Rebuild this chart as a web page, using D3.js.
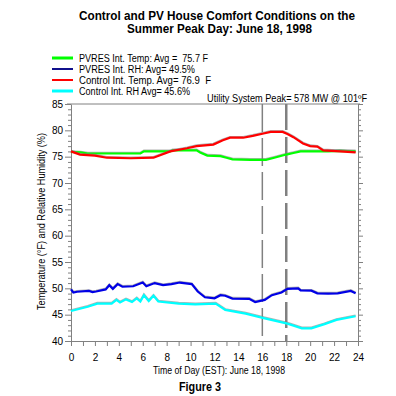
<!DOCTYPE html>
<html lang="en">
<head>
<meta charset="UTF-8">
<title>Control and PV House Comfort Conditions</title>
<style>
  body, html { margin: 0; background: #fff; }
  svg { display: block; font-family: "Liberation Sans", Arial, sans-serif; }
  text { white-space: pre; }
  .axis path, .axis line { stroke: #808080; }
  .axis text { fill: #000; font-size: 10px; }
</style>
</head>
<body>
<svg width="396" height="396"></svg>
<script src="https://d3js.org/d3.v7.min.js"></script>
<script>
// hours of day and readings
const pvTemp = [[0,75.9],[0.8,75.8],[1.4,75.6],[5.8,75.6],[6.1,76.0],[8.3,76.0],[8.5,76.2],[10.5,76.2],[10.8,75.8],[11.4,75.2],[12.5,75.1],[13,74.8],[13.5,74.5],[15,74.4],[16.3,74.4],[17,74.8],[18,75.4],[18.6,75.7],[19.2,76.0],[20.5,76.0],[21.5,76.0],[22.5,76.1],[23.8,76.0]];
const pvRH = [[0,49.8],[0.2,49.2],[0.5,49.35],[1.5,49.5],[1.8,49.3],[2.1,49.4],[2.9,49.8],[3.2,50.6],[3.5,49.9],[3.9,50.8],[4.3,50.3],[5.2,50.4],[6.0,51.1],[6.3,50.4],[7.0,51.0],[7.7,50.6],[8.4,50.8],[9.1,51.1],[10.1,50.8],[10.6,49.4],[11.2,48.3],[12,48.1],[12.5,48.7],[12.9,48.6],[13.5,48.05],[14.9,48.0],[15.4,47.4],[16.2,47.8],[16.8,48.7],[17.6,49.2],[18.1,49.9],[19,50.0],[19.2,49.6],[20.1,49.55],[20.6,49.05],[21.5,49.0],[22.3,49.05],[23.4,49.5],[23.8,49.05]];
const ctlTemp = [[0,76.0],[0.75,75.4],[2,75.2],[3,74.8],[5,74.7],[6.9,74.8],[8.3,76.0],[9.7,76.6],[10.5,77.0],[11.9,77.3],[12.7,78.1],[13.3,78.6],[14.4,78.6],[15.2,78.95],[16.1,79.4],[16.7,79.7],[17.7,79.7],[18.1,79.3],[18.6,78.7],[19.4,77.5],[20,77.0],[20.6,76.9],[21.1,76.2],[22.5,76.0],[23.8,75.8]];
const ctlRH = [[0,45.7],[1.4,46.5],[2.2,47.1],[3.4,47.1],[3.8,47.8],[4.1,47.3],[4.6,47.9],[5.1,47.4],[5.5,48.1],[5.8,47.5],[6.1,48.7],[6.5,47.6],[6.9,48.6],[7.3,47.5],[9,47.1],[10.4,46.95],[12.1,47.1],[12.9,45.9],[14.6,45.2],[16.2,44.3],[18.1,43.3],[19.3,42.4],[20.1,42.4],[21.2,43.2],[22.2,44.0],[23.8,44.7]];

const seriesNames = ["PVRES Int. Temp: Avg =  75.7 F", "PVRES Int. RH: Avg= 49.5%", "Control Int. Temp. Avg= 76.9  F", "Control Int. RH Avg= 45.6%"];
const seriesColors = ["#00ff00", "#0000e6", "#ff0000", "#00ffff"];
const seriesData = [pvTemp, pvRH, ctlTemp, ctlRH];
const peakHours = [16, 18];
const xTicks = d3.range(0, 25, 2);
const yTicks = d3.range(40, 86, 5);

const svg = d3.select("svg");
const mLeft = 71, mRight = 358, mTop = 104, mBottom = 341;

const x = d3.scaleLinear().domain([0, 24]).range([mLeft, mRight]);
const y = d3.scaleLinear().domain([40, 85]).range([mBottom, mTop]);

function label(px, py, str, size, len, anchor) {
  const t = svg.append("text").attr("x", px).attr("y", py)
    .attr("text-anchor", anchor || "middle").attr("font-size", size).text(str);
  if (len) t.attr("textLength", len).attr("lengthAdjust", "spacingAndGlyphs");
  return t;
}

// titles
label(217, 19.5, "Control and PV House Comfort Conditions on the", 12, 276).attr("font-weight", "bold");
label(219.5, 32.5, "Summer Peak Day: June 18, 1998", 12, 185).attr("font-weight", "bold");

// legend
const legendWidths = [129, 116, 132, 111];
seriesNames.forEach((name, i) => {
  const ly = 58 + i * 11;
  svg.append("line").attr("x1", 52).attr("x2", 73).attr("y1", ly).attr("y2", ly)
    .attr("stroke", i === 1 ? "#10108c" : seriesColors[i]).attr("stroke-width", i === 1 || i === 2 ? 2 : 3);
  label(79, ly + 3.5, name, 10, legendWidths[i], "start");
});

label(367, 102, "Utility System Peak= 578 MW @ 101ºF", 10, 160, "end");

// axes
svg.append("g").attr("class", "axis").attr("transform", `translate(0,${mBottom})`)
  .call(d3.axisBottom(x).tickValues(d3.range(0, 25, 1)).tickSize(5)
    .tickFormat(d => xTicks.includes(d) ? d : "").tickSizeOuter(0))
  .call(g => g.selectAll("text").attr("dy", "1.2em"));

svg.append("g").attr("class", "axis").attr("transform", `translate(${mLeft},0)`)
  .call(d3.axisLeft(y).tickValues(d3.range(40, 86, 1)).tickSize(3)
    .tickFormat(d => yTicks.includes(d) ? d : "").tickSizeOuter(0))
  .call(g => g.selectAll(".tick").filter(d => d % 5 === 0).select("line").attr("x2", -6))
  .call(g => g.selectAll("text").attr("x", -8));

svg.append("g").attr("class", "axis").attr("transform", `translate(${mRight},0)`)
  .call(d3.axisRight(y).tickValues(d3.range(40, 86, 1)).tickSize(3)
    .tickFormat("").tickSizeOuter(0))
  .call(g => g.selectAll(".tick").filter(d => d % 5 === 0).select("line").attr("x2", 5));

svg.append("line").attr("x1", mLeft - 4).attr("x2", mRight + 2).attr("y1", mTop).attr("y2", mTop)
  .attr("stroke", "#808080");

// peak window markers
peakHours.forEach((h, i) => {
  svg.append("line").attr("x1", x(h)).attr("x2", x(h)).attr("y1", mTop).attr("y2", mBottom)
    .attr("stroke", "#808080").attr("stroke-width", i === 0 ? 1.5 : 2.5)
    .attr("stroke-dasharray", i === 0 ? "28,6" : "26,7");
});

// series, with the faint grey edge the original trace has
const line = d3.line().x(d => x(d[0])).y(d => y(d[1]));
[3, 1, 0, 2].forEach(i => {
  svg.append("path").datum(seriesData[i]).attr("d", line).attr("fill", "none")
    .attr("transform", "translate(0,-0.8)")
    .attr("stroke", "#808080").attr("stroke-opacity", 0.6).attr("stroke-width", 2);
  svg.append("path").datum(seriesData[i]).attr("d", line).attr("fill", "none")
    .attr("stroke", seriesColors[i]).attr("stroke-width", 2.2);
});

// axis titles
label(219, 374, "Time of Day (EST): June 18, 1998", 10, 132);
label(0, 0, "Temperature (°F) and Relative Humidity (%)", 10, 177)
  .attr("transform", "translate(45,221.5) rotate(-90)");
label(200, 391, "Figure 3", 12, 42).attr("font-weight", "bold");
</script>
</body>
</html>
